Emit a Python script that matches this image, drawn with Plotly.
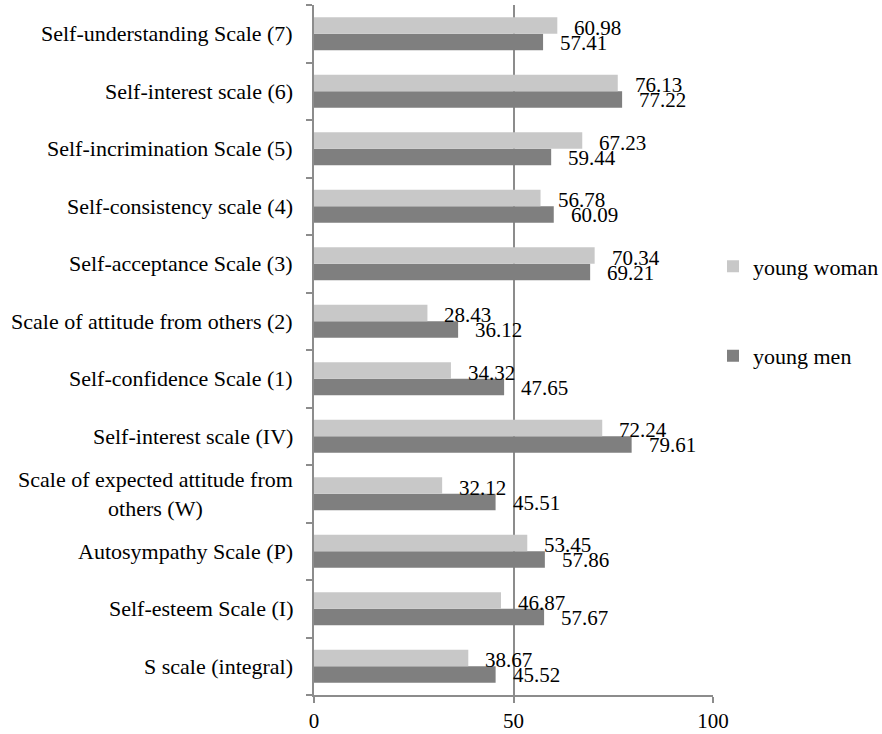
import plotly.graph_objects as go

# Scale names, listed bottom to top as they appear on the chart
categories = [
    "S scale (integral)",
    "Self-esteem Scale (I)",
    "Autosympathy Scale (P)",
    "Scale of expected attitude from<br>others (W)",
    "Self-interest scale (IV)",
    "Self-confidence Scale (1)",
    "Scale of attitude from others (2)",
    "Self-acceptance Scale (3)",
    "Self-consistency scale (4)",
    "Self-incrimination Scale (5)",
    "Self-interest scale (6)",
    "Self-understanding Scale (7)",
]
young_woman = [38.67, 46.87, 53.45, 32.12, 72.24, 34.32, 28.43, 70.34, 56.78, 67.23, 76.13, 60.98]
young_men = [45.52, 57.67, 57.86, 45.51, 79.61, 47.65, 36.12, 69.21, 60.09, 59.44, 77.22, 57.41]
x_ticks = [0, 50, 100]

FONT = "Liberation Serif, Times New Roman, serif"
AXIS_GREY = "#8c8c8c"
LIGHT = "#c8c8c8"
DARK = "#7f7f7f"

# y positions for categories (0..n-1) so labels can be placed per category
ypos = list(range(len(categories)))

fig = go.Figure()
fig.add_trace(go.Bar(
    y=ypos, x=young_men, orientation="h", name="young men",
    marker=dict(color=DARK, line=dict(width=0)),
    legendgroup="m", legendrank=2,
))
fig.add_trace(go.Bar(
    y=ypos, x=young_woman, orientation="h", name="young woman",
    marker=dict(color=LIGHT, line=dict(width=0)),
    legendgroup="w", legendrank=1,
))

annotations = []
# value labels just past the end of each bar
for i, (w, m) in enumerate(zip(young_woman, young_men)):
    annotations.append(dict(x=w, y=i, xref="x", yref="y", text=f"{w:.2f}",
                            showarrow=False, xanchor="left", xshift=15, yshift=6,
                            font=dict(family=FONT, size=21, color="#000")))
    annotations.append(dict(x=m, y=i, xref="x", yref="y", text=f"{m:.2f}",
                            showarrow=False, xanchor="left", xshift=15, yshift=-9,
                            font=dict(family=FONT, size=21, color="#000")))
# category names, centred within their own block
for i, c in enumerate(categories):
    annotations.append(dict(x=0, y=i, xref="paper", yref="y", text=c,
                            showarrow=False, xanchor="right", xshift=-19,
                            align="center",
                            font=dict(family=FONT, size=22, color="#000")))

fig.update_layout(
    width=882, height=734,
    margin=dict(l=314, r=169, t=5, b=39, autoexpand=False),
    paper_bgcolor="white", plot_bgcolor="white",
    barmode="group", bargap=0.43, bargroupgap=0,
    font=dict(family=FONT, size=21, color="#000"),
    annotations=annotations,
    legend=dict(
        x=1.0, xanchor="left", xref="paper",
        y=0.556, yanchor="middle",
        traceorder="grouped", tracegroupgap=58,
        font=dict(family=FONT, size=22, color="#000"),
        bgcolor="rgba(0,0,0,0)", itemwidth=30,
    ),
    xaxis=dict(
        range=[0, 100], tickvals=x_ticks, ticktext=[str(t) for t in x_ticks],
        showgrid=True, gridcolor=AXIS_GREY, gridwidth=1.5,
        showline=True, linecolor=AXIS_GREY, linewidth=1.5,
        ticks="outside", ticklen=6, tickcolor=AXIS_GREY, tickwidth=1.5,
        zeroline=False, tickfont=dict(family=FONT, size=21),
    ),
    yaxis=dict(
        range=[-0.5, len(categories) - 0.5],
        tickvals=[i - 0.5 for i in range(len(categories) + 1)],
        showticklabels=False, showgrid=False, zeroline=False,
        showline=True, linecolor=AXIS_GREY, linewidth=1.5,
        ticks="outside", ticklen=6, tickcolor=AXIS_GREY, tickwidth=1.5,
    ),
)

fig.write_html("out.html")
